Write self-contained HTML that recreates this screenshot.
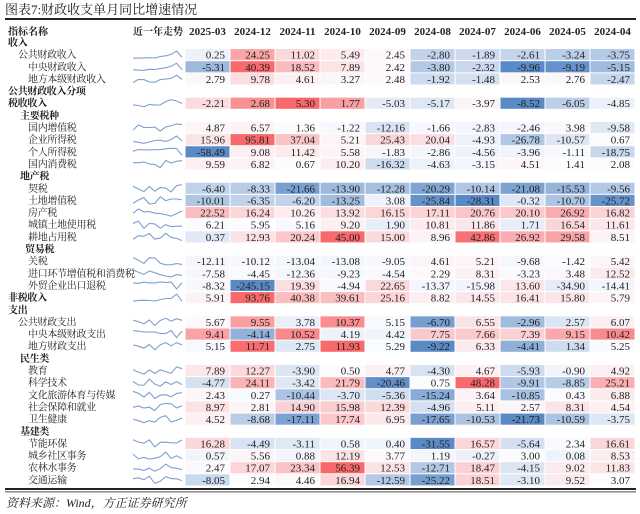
<!DOCTYPE html>
<html><head><meta charset="utf-8">
<style>
html,body{margin:0;padding:0;background:#fff;}
svg{display:block;font-family:"Liberation Serif","Noto Serif CJK SC",serif;}
</style></head>
<body>
<svg id="chart" width="640" height="514" viewBox="0 0 640 514">
  <text x="5" y="14" font-size="13" fill="#222">图表7:财政收支单月同比增速情况</text>
  <rect x="5" y="18" width="631" height="2" fill="#222"></rect>
  <rect x="5" y="488" width="631" height="2" fill="#222"></rect>
  <rect x="5" y="491.5" width="631" height="0.8" fill="#222"></rect>
  <text x="6" y="507" font-size="12" font-style="italic" fill="#222">资料来源：Wind，方正证券研究所</text>
  <g id="body"></g>
</svg>
<script>
const columns = ["2025-03","2024-12","2024-11","2024-10","2024-09","2024-08","2024-07","2024-06","2024-05","2024-04"];
const labels = ["收入","公共财政收入","中央财政收入","地方本级财政收入","公共财政收入分项","税收收入","主要税种","国内增值税","企业所得税","个人所得税","国内消费税","地产税","契税","土地增值税","房产税","城镇土地使用税","耕地占用税","贸易税","关税","进口环节增值税和消费税","外贸企业出口退税","非税收入","支出","公共财政支出","中央本级财政支出","地方财政支出","民生类","教育","科学技术","文化旅游体育与传媒","社会保障和就业","卫生健康","基建类","节能环保","城乡社区事务","农林水事务","交通运输"];
const levels = [0,1,2,2,0,0,"h",2,2,2,2,"h",2,2,2,2,2,"h",2,2,2,0,0,1,2,2,"h",2,2,2,2,2,"h",2,2,2,2];
const groups = [0,1,1,1,0,2,0,3,3,3,3,0,4,4,4,4,4,0,5,5,5,5,0,7,7,7,0,8,8,8,8,8,0,9,9,9,9];
const values = [
null,
[0.25,24.25,11.02,5.49,2.45,-2.80,-1.89,-2.61,-3.24,-3.75],
[-5.31,40.39,18.52,7.89,2.42,-3.80,-2.32,-9.96,-9.19,-5.15],
[2.79,9.78,4.61,3.27,2.48,-1.92,-1.48,2.53,2.76,-2.47],
null,
[-2.21,2.68,5.30,1.77,-5.03,-5.17,-3.97,-8.52,-6.05,-4.85],
null,
[4.87,6.57,1.36,-1.22,-12.16,-1.66,-2.83,-2.46,3.98,-9.58],
[15.96,95.81,37.04,5.21,25.43,20.04,-4.93,-26.78,-10.57,0.67],
[-58.49,9.08,11.42,5.58,-1.83,-2.86,-4.56,-3.96,-1.11,-18.75],
[9.59,6.82,0.67,10.20,-16.32,-4.63,-3.15,4.51,1.41,2.08],
null,
[-6.40,-8.33,-21.66,-13.90,-12.28,-20.29,-10.14,-21.08,-15.53,-9.56],
[-10.01,-6.35,-6.20,-13.25,3.08,-25.84,-28.31,-0.32,-10.70,-25.72],
[22.52,16.24,10.26,13.92,16.15,17.11,20.76,20.10,26.92,16.82],
[6.21,5.95,5.16,9.20,1.90,10.81,11.86,1.71,16.54,11.61],
[0.37,12.93,20.24,45.00,15.00,8.96,42.86,26.92,29.58,8.51],
null,
[-12.11,-10.12,-13.04,-13.08,-9.05,4.61,5.21,-9.68,-1.42,5.42],
[-7.58,-4.45,-12.36,-9.23,-4.54,2.29,8.31,-3.23,3.48,12.52],
[-8.32,-245.15,19.39,-4.94,22.65,-13.37,-15.98,13.60,-34.90,-14.41],
[5.91,93.76,40.38,39.61,25.16,8.82,14.55,16.41,15.80,5.79],
null,
[5.67,9.55,3.78,10.37,5.15,-6.70,6.55,-2.96,2.57,6.07],
[9.41,-4.14,10.52,4.19,4.42,7.75,7.66,7.39,9.15,10.42],
[5.15,11.71,2.75,11.93,5.29,-9.22,6.33,-4.41,1.34,5.25],
null,
[7.89,12.27,-3.90,0.50,4.77,-4.30,4.67,-5.93,-0.90,4.92],
[-4.77,24.11,-3.42,21.79,-20.46,0.75,48.28,-9.91,-8.85,25.21],
[2.43,0.27,-10.44,-3.70,-5.36,-15.24,3.64,-10.85,0.43,6.88],
[8.97,2.81,14.90,15.98,12.39,-4.96,5.11,2.57,8.31,4.54],
[4.52,-8.68,-17.11,17.74,6.95,-17.65,-10.53,-21.73,-10.59,-3.75],
null,
[16.28,-4.49,-3.11,0.58,0.40,-31.55,16.57,-5.64,2.34,16.61],
[0.57,5.56,0.88,12.19,3.77,1.19,-0.27,3.00,0.08,8.53],
[2.47,17.07,23.34,56.39,12.53,-12.71,18.47,-4.15,9.02,11.83],
[-8.05,2.94,4.46,16.94,-12.59,-25.22,18.51,-3.10,9.52,3.07]
];

const NS="http://www.w3.org/2000/svg";
const body=document.getElementById('body');
const rowY0=36.4, rowH=12.15, colX0=185, colW=45;
function rowTop(i){return rowY0+i*rowH;}
function colX(j){return colX0+j*colW;}
function mk(tag,attrs,parent){const e=document.createElementNS(NS,tag);for(const k in attrs)e.setAttribute(k,attrs[k]);(parent||body).appendChild(e);return e;}

const stats={};
groups.forEach((g,i)=>{if(!values[i])return;(stats[g]=stats[g]||[]).push(...values[i]);});
for(const g in stats){const a=stats[g].slice().sort((x,y)=>x-y);const n=a.length;const med=n%2?a[(n-1)/2]:(a[n/2-1]+a[n/2])/2;stats[g]={min:a[0],max:a[n-1],mid:med};}
const cMin=[90,138,198],cMid=[252,252,255],cMax=[248,105,107];
function mix(a,b,t){return 'rgb('+a.map((v,k)=>Math.round(v+(b[k]-v)*t)).join(',')+')';}
function color(v,g){const s=stats[g];if(v<=s.mid){const t=(s.mid-v)/((s.mid-s.min)||1);return mix(cMid,cMin,Math.min(1,t));}const t=(v-s.mid)/((s.max-s.mid)||1);return mix(cMid,cMax,Math.min(1,t));}

const hy=35;
const h1=mk('text',{x:8,y:hy,'font-size':10,'font-weight':'bold',fill:'#222'});h1.textContent='指标名称';


const h2=mk('text',{x:158,y:hy,'font-size':10,'font-weight':'bold','text-anchor':'middle',fill:'#222'});h2.textContent='近一年走势';


columns.forEach((c,j)=>{const t=mk('text',{x:colX(j)+colW/2,y:hy,'font-size':11,'font-weight':'bold','text-anchor':'middle',fill:'#222'});t.textContent=c;

});

labels.forEach((lab,i)=>{
  const top=rowTop(i), cy=top+rowH/2;
  const lv=levels[i];
  let x=8, bold=false;
  if(lv===0){x=8;bold=true;} else if(lv===1){x=18;} else if(lv===2){x=28;} else {x=i===17?25:20;bold=true;}
  const t=mk('text',{x:x,y:cy+3.5,'font-size':10,fill:'#222','font-weight':bold?'bold':'normal','letter-spacing':'-0.3'});
  t.textContent=lab;
  
  
  const vals=values[i];
  if(!vals)return;
  const ser=vals.slice().reverse();
  const mn=Math.min(...ser), mx=Math.max(...ser);
  const pts=ser.map((v,k)=>{const px=133+k*(49/(ser.length-1));const py=top+rowH-2.5-((v-mn)/((mx-mn)||1))*(rowH-5);return px.toFixed(1)+','+py.toFixed(1);}).join(' ');
  const pl=mk('polyline',{points:pts,fill:'none',stroke:'#7f9fd0','stroke-width':1.1});
  
  
  vals.forEach((v,j)=>{
    const r=mk('rect',{x:colX(j)+0.5,y:top+0.5,width:colW-1,height:rowH-1,fill:color(v,groups[i])});
    
    
    const tx=mk('text',{x:colX(j)+colW-5,y:cy+4,'font-size':11,'text-anchor':'end',fill:'#222'});
    tx.textContent=v.toFixed(2);
    
    
  });
});
</script>
</body></html>
